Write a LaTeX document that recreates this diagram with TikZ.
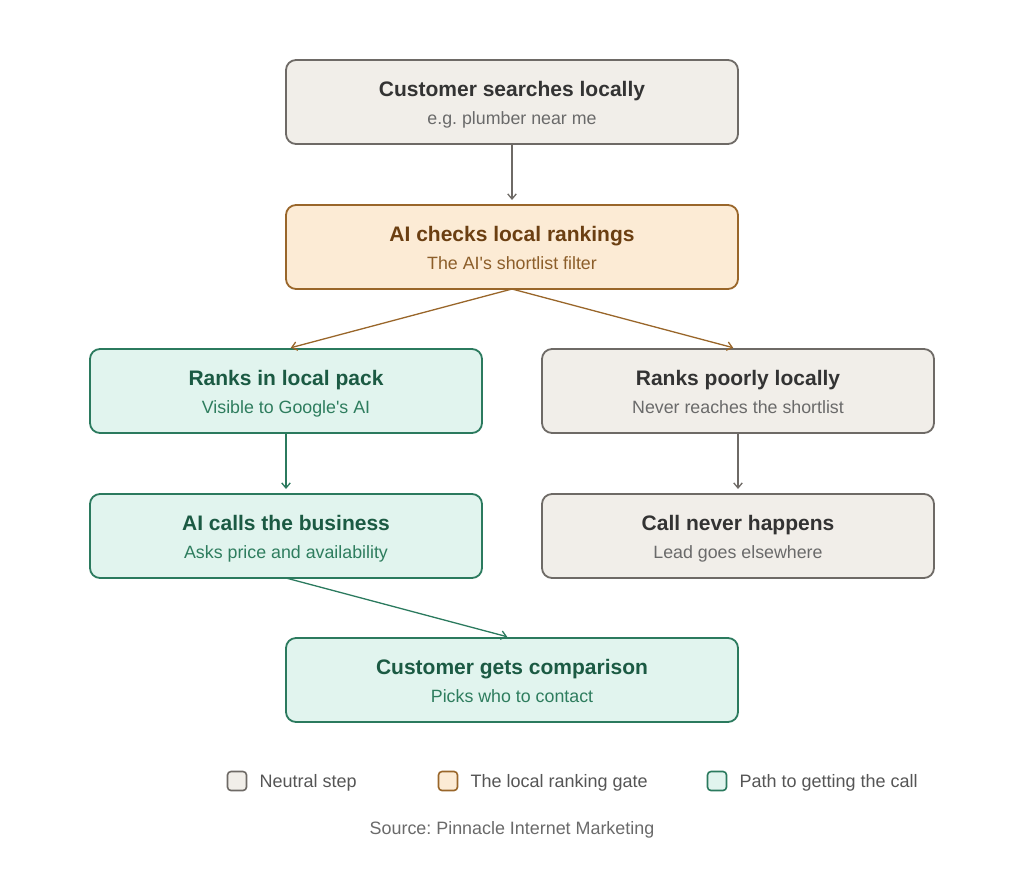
\documentclass[tikz,border=0pt]{standalone}
\usepackage{fontspec}
\setmainfont{Liberation Sans}
\usetikzlibrary{arrows.meta,positioning}

\definecolor{neutfill}{HTML}{F1EEE9}
\definecolor{neutline}{HTML}{6E6A66}
\definecolor{neuttitle}{HTML}{333333}
\definecolor{neutsub}{HTML}{6A6A6A}
\definecolor{gatefill}{HTML}{FCEBD5}
\definecolor{gateline}{HTML}{99662A}
\definecolor{gatetitle}{HTML}{6B3F12}
\definecolor{gatesub}{HTML}{8C5E2A}
\definecolor{pathfill}{HTML}{E1F4EE}
\definecolor{pathline}{HTML}{2B7A5E}
\definecolor{pathtitle}{HTML}{1B5A43}
\definecolor{pathsub}{HTML}{2E7D5E}
\definecolor{legtext}{HTML}{555555}

\newcommand{\twoline}[3]{{\bfseries\fontsize{21}{28}\selectfont\rule{0pt}{20pt}#1}\\{\fontsize{17.8}{28}\selectfont\color{#3}\vphantom{Ag}#2}}
\frenchspacing

\begin{document}
\begin{tikzpicture}[x=1pt,y=-1pt,node distance=60pt and 12pt,
  box/.style={draw,rounded corners=10pt,line width=1.8pt,align=center,minimum width=452pt,minimum height=84pt,inner sep=0pt,outer sep=0pt,font=\fontsize{21}{28}\selectfont},
  neut/.style={box,fill=neutfill,draw=neutline,text=neuttitle},
  gate/.style={box,fill=gatefill,draw=gateline,text=gatetitle},
  path/.style={box,fill=pathfill,draw=pathline,text=pathtitle},
  narrow/.style={minimum width=392pt},
  arr/.style={-{Straight Barb[length=1.8mm,width=3mm]},line width=1.3pt,shorten >=5pt},
  key/.style={draw,rounded corners=3.5pt,line width=1.6pt,minimum size=19pt,inner sep=0pt},
  keytxt/.style={text=legtext,font=\fontsize{18}{20}\selectfont,inner sep=0pt,yshift=-1.5pt}]
\useasboundingbox (0,0) rectangle (1024,873);
\node[neut] (search) at (512,102) {\twoline{Customer searches locally}{e.g. plumber near me}{neutsub}};
\node[gate,below=61pt of search] (rank) {\twoline{AI checks local rankings}{The AI\textquotesingle s shortlist filter}{gatesub}};
\node[path,narrow,below=60pt of rank.south west] (pack) {\twoline{Ranks in local pack}{Visible to Google\textquotesingle s AI}{pathsub}};
\node[neut,narrow,below=60pt of rank.south east] (poor) {\twoline{Ranks poorly locally}{Never reaches the shortlist}{neutsub}};
\node[path,narrow,below=61pt of pack] (calls) {\twoline{AI calls the business}{Asks price and availability}{pathsub}};
\node[neut,narrow,below=61pt of poor] (never) {\twoline{Call never happens}{Lead goes elsewhere}{neutsub}};
\node[path] (compare) at (512,680) {\twoline{Customer gets comparison}{Picks who to contact}{pathsub}};
\draw[arr,neutline] (search)--(rank);
\draw[arr,gateline] (rank.south)--(pack.north);
\draw[arr,gateline] (rank.south)--(poor.north);
\draw[arr,pathline] (pack)--(calls);
\draw[arr,neutline] (poor)--(never);
\draw[arr,pathline] (calls.south)--(compare.north);
% legend
\node[key,fill=neutfill,draw=neutline] (k1) at (237,781) {};
\node[keytxt,right=of k1] (t1) {Neutral step};
\node[key,fill=gatefill,draw=gateline] (k2) at (448,781) {};
\node[keytxt,right=of k2] (t2) {The local ranking gate};
\node[key,fill=pathfill,draw=pathline] (k3) at (717,781) {};
\node[keytxt,right=of k3] (t3) {Path to getting the call};
\node[text=neutsub,font=\fontsize{17.9}{20}\selectfont] (src) at (512,830) {Source: Pinnacle Internet Marketing};
\end{tikzpicture}
\end{document}
